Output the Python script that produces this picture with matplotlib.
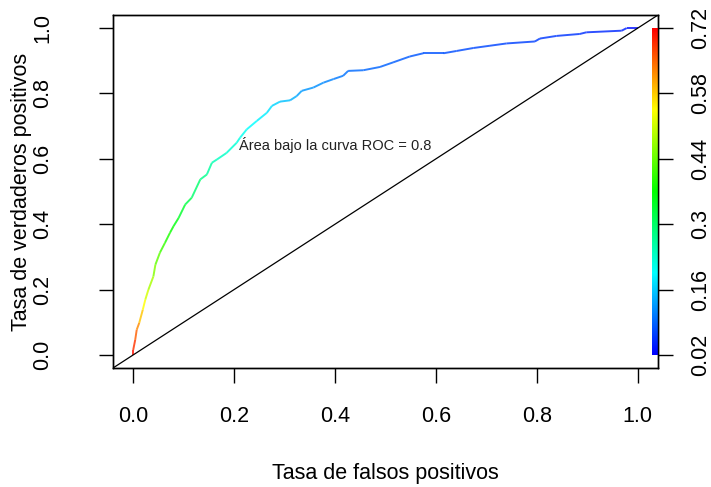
import numpy as np
import matplotlib.pyplot as plt
from matplotlib.collections import LineCollection
from matplotlib.colors import hsv_to_rgb

plt.rcParams['font.family'] = ['Liberation Sans', 'DejaVu Sans']

# puntos de la curva ROC (fpr, tpr, punto de corte)
fpr = [0.000, 0.000, 0.004, 0.007, 0.012, 0.019, 0.024, 0.030, 0.040, 0.044,
       0.053, 0.063, 0.073, 0.080, 0.090, 0.103, 0.116, 0.133, 0.146, 0.156,
       0.166, 0.185, 0.205, 0.212, 0.225, 0.245, 0.265, 0.275, 0.291, 0.311,
       0.324, 0.334, 0.357, 0.377, 0.397, 0.416, 0.426, 0.456, 0.489, 0.515,
       0.548, 0.575, 0.615, 0.641, 0.674, 0.707, 0.740, 0.796, 0.806, 0.839,
       0.885, 0.898, 0.968, 0.978, 1.000]
tpr = [0.000, 0.015, 0.046, 0.077, 0.098, 0.138, 0.169, 0.199, 0.240, 0.276,
       0.313, 0.343, 0.374, 0.394, 0.419, 0.460, 0.481, 0.537, 0.552, 0.588,
       0.598, 0.618, 0.649, 0.665, 0.690, 0.716, 0.741, 0.762, 0.775, 0.779,
       0.792, 0.808, 0.818, 0.833, 0.844, 0.854, 0.869, 0.871, 0.881, 0.895,
       0.913, 0.923, 0.923, 0.930, 0.939, 0.946, 0.953, 0.959, 0.968, 0.976,
       0.982, 0.987, 0.992, 1.000, 1.000]
corte = [0.72, 0.70, 0.67, 0.64, 0.61, 0.56, 0.53, 0.50, 0.47, 0.45,
         0.42, 0.40, 0.38, 0.37, 0.35, 0.33, 0.31, 0.28, 0.27, 0.25,
         0.24, 0.23, 0.22, 0.21, 0.20, 0.19, 0.18, 0.17, 0.16, 0.145,
         0.135, 0.125, 0.12, 0.115, 0.105, 0.10, 0.095, 0.09, 0.088, 0.085,
         0.08, 0.077, 0.074, 0.072, 0.07, 0.067, 0.065, 0.062, 0.06, 0.057,
         0.054, 0.05, 0.045, 0.04, 0.02]

etiquetas_corte = ['0.02', '0.16', '0.3', '0.44', '0.58', '0.72']
auc = 0.8

cmin, cmax = 0.02, 0.72

def color_corte(c):
    # arcoiris de ROCR: rojo para cortes altos, azul para bajos
    h = (cmax - np.asarray(c)) / (cmax - cmin) * 4 / 6
    h = np.clip(h, 0, 4 / 6)
    hsv = np.stack([h, np.ones_like(h), np.ones_like(h)], axis=-1)
    return hsv_to_rgb(hsv)

fig = plt.figure(figsize=(7.11, 4.87), dpi=100)
ax = fig.add_axes([113 / 711, 1 - 368 / 487, 545 / 711, 353 / 487])

pts = np.column_stack([fpr, tpr])
segs = np.stack([pts[:-1], pts[1:]], axis=1)
cseg = (np.array(corte[:-1]) + np.array(corte[1:])) / 2
lc = LineCollection(segs, colors=color_corte(cseg), linewidth=1.4, alpha=0.82)
ax.add_collection(lc)

ax.plot([-1, 2], [-1, 2], color='black', lw=0.9)

# barra de colores pegada al borde derecho
grad = np.linspace(cmin, cmax, 256)[:, None]
ax.imshow(color_corte(grad), extent=[1.028, 1.04, 0, 1], origin='lower',
          aspect='auto', zorder=3)
ax.set_xlim(-0.04, 1.04)
ax.set_ylim(-0.04, 1.04)

ax.text(0.4, 0.641, f'Área bajo la curva ROC = {auc}', fontsize=10.5,
        ha='center', va='center', color='#222222')

marcas = [0, 0.2, 0.4, 0.6, 0.8, 1.0]
ax.set_xticks(marcas)
ax.set_xticklabels(['0.0', '0.2', '0.4', '0.6', '0.8', '1.0'])
ax.set_yticks(marcas)
ax.set_yticklabels(['0.0', '0.2', '0.4', '0.6', '0.8', '1.0'], rotation=90,
                   va='center')
ax.tick_params(axis='x', length=11, width=1, labelsize=15.5, pad=16)
ax.tick_params(axis='y', length=10, width=1, labelsize=15.5, pad=33)

ax2 = ax.twinx()
ax2.set_ylim(-0.04, 1.04)
ax2.set_yticks(marcas)
ax2.set_yticklabels(etiquetas_corte, rotation=90, va='center')
ax2.tick_params(axis='y', length=11, width=1, labelsize=15.5, pad=12)

for a in (ax, ax2):
    for s in a.spines.values():
        s.set_linewidth(1)

ax.set_xlabel('Tasa de falsos positivos', fontsize=15.5, va='center')
ax.xaxis.set_label_coords(0.5, (368 - 474) / 353)
ax.set_ylabel('Tasa de verdaderos positivos', fontsize=15.5, va='center')
ax.yaxis.set_label_coords((21 - 113) / 545, 0.5)

fig.savefig('out.png', dpi=100)
